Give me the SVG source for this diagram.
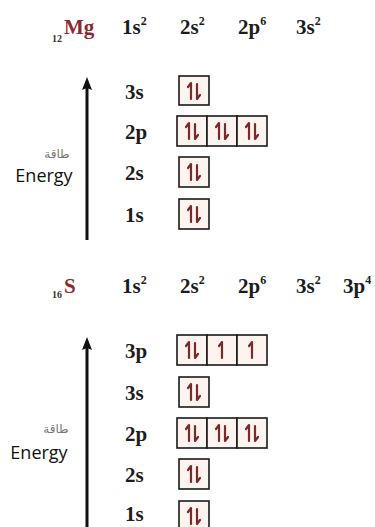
<svg xmlns="http://www.w3.org/2000/svg" xmlns:xlink="http://www.w3.org/1999/xlink" width="375" height="527" viewBox="0 0 375 527">
<style>
.t{font-family:"Liberation Serif","Times New Roman",serif;font-weight:bold;font-size:21px;fill:#1c1c1c}
.sup{font-size:12px}
.sym{font-family:"Liberation Serif",serif;font-weight:bold;font-size:21px;fill:#8a2a30}
.sub{font-family:"Liberation Serif",serif;font-weight:bold;font-size:10px;fill:#333}
.box{fill:#fdf4ef;stroke:#1a1a1a;stroke-width:1.6}
.e{stroke:#7a2a2a;stroke-width:2.2;fill:none;stroke-linecap:round;stroke-linejoin:round}
.en{font-family:"Open Sans","DejaVu Sans",sans-serif;font-size:18px;fill:#111}
.ar{font-family:"DejaVu Sans","Noto Sans",sans-serif;font-size:12px;fill:#777}
.axis{stroke:#111;stroke-width:3}
.head{fill:#111}
</style>
<defs>
<g id="pair"><path class="e" d="M12,23V7L9,11M18,8V23L21,19"/></g>
<g id="up"><path class="e" d="M15,23V7L12,11"/></g>
</defs>

<g id="mg-title">
<text class="sub" x="52" y="42">12</text>
<text class="sym" x="64" y="34">Mg</text>
<text class="t" x="122" y="34">1s<tspan class="sup" dy="-9">2</tspan></text>
<text class="t" x="180" y="34">2s<tspan class="sup" dy="-9">2</tspan></text>
<text class="t" x="238" y="34">2p<tspan class="sup" dy="-9">6</tspan></text>
<text class="t" x="296" y="34">3s<tspan class="sup" dy="-9">2</tspan></text>
</g>

<g id="s-title">
<text class="sub" x="52" y="298">16</text>
<text class="sym" x="64" y="293">S</text>
<text class="t" x="122" y="293">1s<tspan class="sup" dy="-9">2</tspan></text>
<text class="t" x="180" y="293">2s<tspan class="sup" dy="-9">2</tspan></text>
<text class="t" x="238" y="293">2p<tspan class="sup" dy="-9">6</tspan></text>
<text class="t" x="296" y="293">3s<tspan class="sup" dy="-9">2</tspan></text>
<text class="t" x="343" y="293">3p<tspan class="sup" dy="-9">4</tspan></text>
</g>

<g id="connectors">
<line class="axis" x1="87" y1="240" x2="87" y2="88"/>
<path class="head" d="M87,77L92,90L87,88L82,90Z"/>
<line class="axis" x1="87" y1="530" x2="87" y2="348"/>
<path class="head" d="M87,337L92,350L87,348L82,350Z"/>
</g>

<g id="mg-energy">
<text class="ar" x="57" y="158" text-anchor="middle">طاقة</text>
<text class="en" x="44" y="182" text-anchor="middle">Energy</text>
</g>
<g id="s-energy">
<text class="ar" x="56" y="433" text-anchor="middle">طاقة</text>
<text class="en" x="39" y="459" text-anchor="middle">Energy</text>
</g>

<g id="mg-3s"><text class="t" x="125" y="99">3s</text><rect class="box" x="179" y="76" width="30" height="29"/><use xlink:href="#pair" x="179" y="76"/></g>
<g id="mg-2p"><text class="t" x="125" y="139">2p</text>
<rect class="box" x="177" y="116" width="30" height="30"/><rect class="box" x="207" y="116" width="30" height="30"/><rect class="box" x="237" y="116" width="30" height="30"/>
<use xlink:href="#pair" x="177" y="116"/><use xlink:href="#pair" x="207" y="116"/><use xlink:href="#pair" x="237" y="116"/></g>
<g id="mg-2s"><text class="t" x="125" y="180">2s</text><rect class="box" x="179" y="157" width="30" height="30"/><use xlink:href="#pair" x="179" y="157"/></g>
<g id="mg-1s"><text class="t" x="125" y="222">1s</text><rect class="box" x="179" y="199" width="30" height="30"/><use xlink:href="#pair" x="179" y="199"/></g>

<g id="s-3p"><text class="t" x="125" y="358">3p</text>
<rect class="box" x="177" y="335" width="30" height="30"/><rect class="box" x="207" y="335" width="30" height="30"/><rect class="box" x="237" y="335" width="30" height="30"/>
<use xlink:href="#pair" x="177" y="335"/><use xlink:href="#up" x="207" y="335"/><use xlink:href="#up" x="237" y="335"/></g>
<g id="s-3s"><text class="t" x="125" y="400">3s</text><rect class="box" x="179" y="377" width="30" height="30"/><use xlink:href="#pair" x="179" y="377"/></g>
<g id="s-2p"><text class="t" x="125" y="441">2p</text>
<rect class="box" x="177" y="418" width="30" height="30"/><rect class="box" x="207" y="418" width="30" height="30"/><rect class="box" x="237" y="418" width="30" height="30"/>
<use xlink:href="#pair" x="177" y="418"/><use xlink:href="#pair" x="207" y="418"/><use xlink:href="#pair" x="237" y="418"/></g>
<g id="s-2s"><text class="t" x="125" y="482">2s</text><rect class="box" x="179" y="459" width="30" height="30"/><use xlink:href="#pair" x="179" y="459"/></g>
<g id="s-1s"><text class="t" x="125" y="521">1s</text><rect class="box" x="179" y="501" width="30" height="30"/><use xlink:href="#pair" x="179" y="501"/></g>
</svg>
